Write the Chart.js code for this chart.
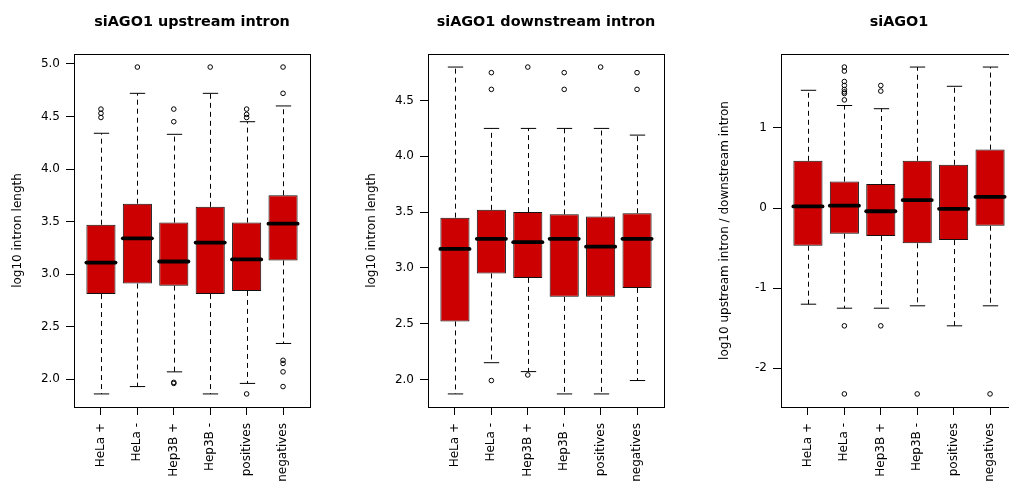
<!DOCTYPE html>
<html>
<head>
<meta charset="utf-8">
<title>siAGO1 intron lengths</title>
<script src="https://cdn.jsdelivr.net/npm/chart.js@4/dist/chart.umd.min.js"></script>
<style>
  html, body { margin: 0; padding: 0; background: #ffffff; overflow: hidden; }
  #wrap { position: relative; width: 1009px; height: 482px; overflow: hidden; }
  .panel { position: absolute; top: 0; width: 354px; height: 482px; }
  .panel canvas { display: block; }
</style>
</head>
<body>
<div id="wrap">
  <div class="panel" style="left:0px"><canvas id="up" width="354" height="482"></canvas></div>
  <div class="panel" style="left:354px"><canvas id="down" width="354" height="482"></canvas></div>
  <div class="panel" style="left:707px"><canvas id="ratio" width="354" height="482"></canvas></div>
</div>
<script>
// Sample groups shared by all three panels
const groups = ['HeLa +', 'HeLa -', 'Hep3B +', 'Hep3B -', 'positives', 'negatives'];

// siAGO1 upstream intron: log10 intron length
const upLow      = [1.86, 1.93, 2.07, 1.86, 1.96, 2.34];
const upQ1       = [2.81, 2.91, 2.89, 2.81, 2.84, 3.13];
const upMedian   = [3.11, 3.34, 3.12, 3.30, 3.14, 3.48];
const upQ3       = [3.47, 3.67, 3.49, 3.64, 3.49, 3.75];
const upHigh     = [4.34, 4.72, 4.33, 4.72, 4.45, 4.60];
const upOutliers = [
  [4.49, 4.53, 4.57],
  [4.97],
  [4.45, 4.57, 1.96, 1.97],
  [4.97],
  [4.49, 4.52, 4.57, 1.86],
  [4.72, 4.97, 2.18, 2.15, 2.07, 1.93]
];
const upTicks = [2.0, 2.5, 3.0, 3.5, 4.0, 4.5, 5.0];

// siAGO1 downstream intron: log10 intron length
const downLow      = [1.87, 2.15, 2.07, 1.87, 1.87, 1.99];
const downQ1       = [2.52, 2.95, 2.91, 2.74, 2.74, 2.82];
const downMedian   = [3.17, 3.26, 3.23, 3.26, 3.19, 3.26];
const downQ3       = [3.45, 3.52, 3.50, 3.48, 3.46, 3.49];
const downHigh     = [4.80, 4.25, 4.25, 4.25, 4.25, 4.19];
const downOutliers = [
  [],
  [4.75, 4.60, 1.99],
  [4.80, 2.04],
  [4.75, 4.60],
  [4.80],
  [4.75, 4.60]
];
const downTicks = [2.0, 2.5, 3.0, 3.5, 4.0, 4.5];

// siAGO1: log10 upstream / downstream intron length ratio
const ratioLow      = [-1.20, -1.25, -1.25, -1.22, -1.47, -1.22];
const ratioQ1       = [-0.47, -0.32, -0.35, -0.44, -0.40, -0.22];
const ratioMedian   = [0.02, 0.03, -0.04, 0.10, -0.01, 0.14];
const ratioQ3       = [0.59, 0.33, 0.30, 0.59, 0.54, 0.73];
const ratioHigh     = [1.47, 1.28, 1.24, 1.76, 1.52, 1.76];
const ratioOutliers = [
  [],
  [1.76, 1.71, 1.58, 1.53, 1.48, 1.45, 1.43, 1.35, -1.47, -2.32],
  [1.53, 1.46, -1.47],
  [-2.32],
  [],
  [-2.32]
];
const ratioTicks = [-2, -1, 0, 1];

const FONT = "'DejaVu Sans', 'Liberation Sans', sans-serif";
Chart.defaults.font.family = FONT;
Chart.defaults.color = '#000000';

// Axis limits padded by 4% of the data span on each side
function paddedRange(lo, hi, outliers) {
  const all = lo.concat(hi, outliers.flat());
  const mn = Math.min(...all), mx = Math.max(...all);
  const pad = (mx - mn) * 0.04;
  return [mn - pad, mx + pad];
}

// Whiskers, staples and median bars drawn in data space via the chart scales
function boxDecorations(stats) {
  return {
    id: 'boxDecorations',
    beforeDatasetsDraw(chart) {
      const ctx = chart.ctx, xs = chart.scales.x, ys = chart.scales.y;
      ctx.save();
      ctx.strokeStyle = '#000000';
      ctx.lineWidth = 1;
      stats.lo.forEach((_, i) => {
        const xc = xs.getPixelForValue(i + 1);
        const x = Math.round(xc) + 0.5;
        const half = xs.getPixelForValue(i + 1.2) - xc;
        const yLo = ys.getPixelForValue(stats.lo[i]);
        const yHi = ys.getPixelForValue(stats.hi[i]);
        const yQ1 = ys.getPixelForValue(stats.q1[i]);
        const yQ3 = ys.getPixelForValue(stats.q3[i]);
        ctx.setLineDash([5, 4]);
        ctx.lineCap = 'butt';
        ctx.beginPath();
        ctx.moveTo(x, yQ3); ctx.lineTo(x, yHi);
        ctx.moveTo(x, yQ1); ctx.lineTo(x, yLo);
        ctx.stroke();
        ctx.setLineDash([]);
        ctx.lineCap = 'round';
        ctx.beginPath();
        ctx.moveTo(x - half, yHi); ctx.lineTo(x + half, yHi);
        ctx.moveTo(x - half, yLo); ctx.lineTo(x + half, yLo);
        ctx.stroke();
      });
      ctx.restore();
    },
    afterDatasetDraw(chart, args) {
      if (args.index !== 0) return;
      const ctx = chart.ctx, xs = chart.scales.x, ys = chart.scales.y;
      ctx.save();
      ctx.strokeStyle = '#000000';
      ctx.lineWidth = 3.8;
      ctx.lineCap = 'round';
      stats.med.forEach((m, i) => {
        const x0 = xs.getPixelForValue(i + 1 - 0.4);
        const x1 = xs.getPixelForValue(i + 1 + 0.4);
        const y = ys.getPixelForValue(m);
        ctx.beginPath();
        ctx.moveTo(x0, y); ctx.lineTo(x1, y);
        ctx.stroke();
      });
      ctx.restore();
    },
    afterDraw(chart) {
      const a = chart.chartArea, ctx = chart.ctx;
      ctx.save();
      ctx.strokeStyle = '#000000';
      ctx.lineWidth = 1;
      const l = Math.round(a.left) + 0.5, t = Math.round(a.top) + 0.5;
      const r = Math.round(a.right) + 0.5, b = Math.round(a.bottom) + 0.5;
      ctx.strokeRect(l, t, r - l, b - t);
      ctx.restore();
    }
  };
}

function boxPanel(id, titleText, yTitle, stats, ticks, decimals) {
  const [yMin, yMax] = paddedRange(stats.lo, stats.hi, stats.out);
  const boxes = groups.map((g, i) => ({ x: i + 1, y: [stats.q1[i], stats.q3[i]] }));
  const points = [];
  stats.out.forEach((vals, i) => vals.forEach(v => points.push({ x: i + 1, y: v })));

  return new Chart(document.getElementById(id), {
    type: 'bar',
    data: {
      datasets: [
        {
          type: 'bar',
          data: boxes,
          backgroundColor: '#CC0000',
          borderColor: '#111111',
          borderWidth: 1,
          borderSkipped: false,
          barPercentage: 0.8,
          categoryPercentage: 1.0
        },
        {
          type: 'scatter',
          data: points,
          showLine: false,
          pointStyle: 'circle',
          pointRadius: 2.3,
          pointBorderWidth: 1,
          pointBorderColor: '#000000',
          pointBackgroundColor: 'rgba(0,0,0,0)'
        }
      ]
    },
    options: {
      responsive: false,
      animation: false,
      devicePixelRatio: 1,
      events: [],
      layout: { padding: { left: 0, right: 44, top: 0, bottom: 0 } },
      plugins: {
        legend: { display: false },
        tooltip: { enabled: false },
        title: {
          display: true,
          text: titleText,
          fullSize: false,
          color: '#000000',
          font: { family: FONT, size: 14.4, weight: 'bold' },
          padding: { top: 13.4, bottom: 23.3 }
        }
      },
      scales: {
        x: {
          type: 'linear',
          min: 0.26,
          max: groups.length + 0.74,
          offset: false,
          bounds: 'data',
          border: { display: false },
          grid: { drawOnChartArea: false, drawTicks: true, tickLength: 8, color: '#000000', offset: false },
          ticks: {
            autoSkip: false,
            minRotation: 90,
            maxRotation: 90,
            padding: 8,
            color: '#000000',
            font: { family: FONT, size: 12 },
            callback: (v, i) => groups[i]
          },
          afterBuildTicks: s => { s.ticks = groups.map((g, i) => ({ value: i + 1 })); },
          afterFit: s => { s.height = 75; }
        },
        y: {
          type: 'linear',
          min: yMin,
          max: yMax,
          bounds: 'data',
          border: { display: false },
          grid: { drawOnChartArea: false, drawTicks: true, tickLength: 8, color: '#000000' },
          ticks: {
            padding: 6,
            color: '#000000',
            font: { family: FONT, size: 12 },
            callback: v => Number(v).toFixed(decimals)
          },
          title: {
            display: true,
            text: yTitle,
            color: '#000000',
            font: { family: FONT, size: 12 },
            padding: { top: 11, bottom: 0 }
          },
          afterBuildTicks: s => { s.ticks = ticks.map(v => ({ value: v })); },
          afterFit: s => { s.width = 74; }
        }
      }
    },
    plugins: [boxDecorations(stats)]
  });
}

boxPanel('up', 'siAGO1 upstream intron', 'log10 intron length',
  { lo: upLow, q1: upQ1, med: upMedian, q3: upQ3, hi: upHigh, out: upOutliers }, upTicks, 1);

boxPanel('down', 'siAGO1 downstream intron', 'log10 intron length',
  { lo: downLow, q1: downQ1, med: downMedian, q3: downQ3, hi: downHigh, out: downOutliers }, downTicks, 1);

boxPanel('ratio', 'siAGO1', 'log10 upstream intron / downstream intron',
  { lo: ratioLow, q1: ratioQ1, med: ratioMedian, q3: ratioQ3, hi: ratioHigh, out: ratioOutliers }, ratioTicks, 0);
</script>
</body>
</html>
